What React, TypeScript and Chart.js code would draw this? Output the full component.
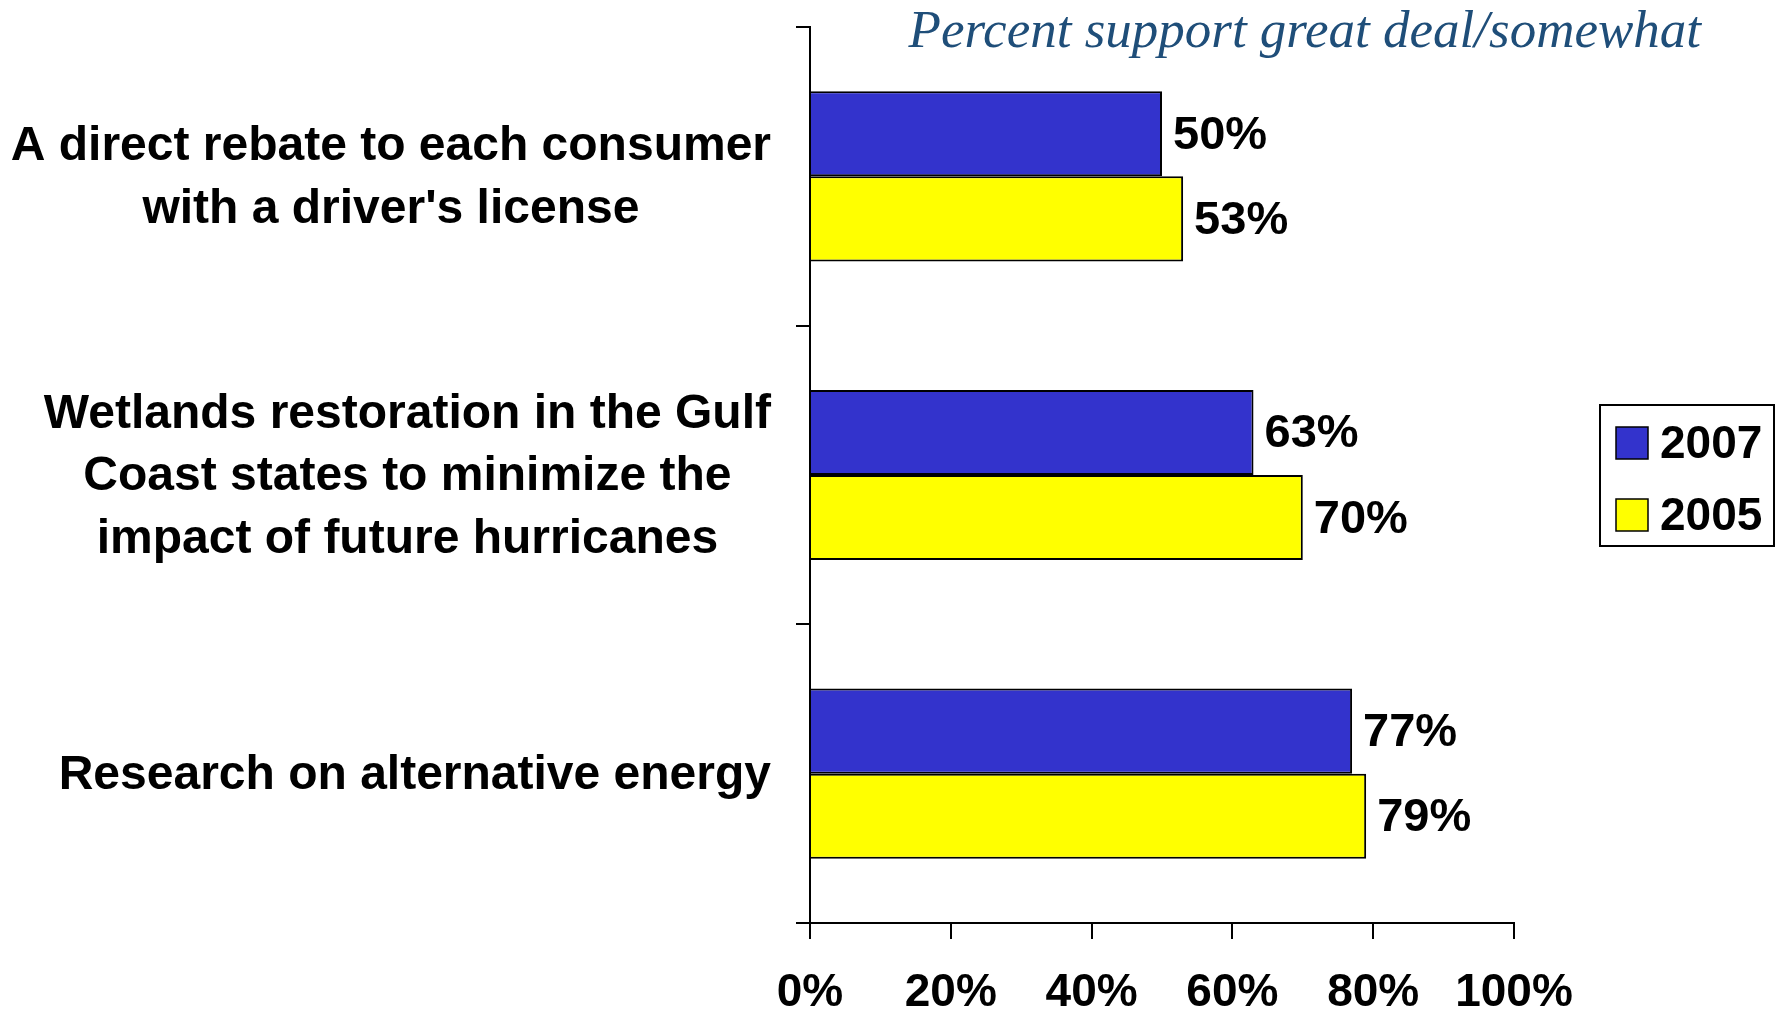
import React, { useEffect, useRef } from 'react';
import { Chart, registerables } from 'chart.js';

Chart.register(...registerables);

const categories: string[][] = [
  ['A direct rebate to each consumer', "with a driver's license"],
  ['Wetlands restoration in the Gulf', 'Coast states to minimize the', 'impact of future hurricanes'],
  ['Research on alternative energy'],
];
const seriesLabels = ['2007', '2005'];
const values2007 = [50, 63, 77];
const values2005 = [53, 70, 79];
const seriesColors = ['#3333CC', '#FFFF00'];
const xTickValues = [0, 20, 40, 60, 80, 100];
const titleText = 'Percent support great deal/somewhat';

const SANS = '"Liberation Sans", Arial, sans-serif';

const valueLabelPlugin = {
  id: 'valueLabels',
  afterDatasetsDraw(chart: any) {
    const ctx = chart.ctx;
    ctx.save();
    ctx.font = `bold 47px ${SANS}`;
    ctx.fillStyle = '#000';
    ctx.textAlign = 'left';
    ctx.textBaseline = 'middle';
    chart.data.datasets.forEach((ds: any, i: number) => {
      const meta = chart.getDatasetMeta(i);
      meta.data.forEach((bar: any, j: number) => {
        ctx.fillText(ds.data[j] + '%', bar.x + 11, bar.y + 2);
      });
    });
    ctx.restore();
  },
};

// Category labels: each block right-aligned against the axis, lines centred within the block
const categoryLabelPlugin = {
  id: 'categoryLabels',
  afterDraw(chart: any) {
    const ctx = chart.ctx;
    const yScale = chart.scales.y;
    const lineHeight = 62.4;
    const blockRight = yScale.right - 39;
    ctx.save();
    ctx.font = `bold 48px ${SANS}`;
    ctx.fillStyle = '#000';
    ctx.textAlign = 'center';
    ctx.textBaseline = 'middle';
    (chart.data.labels as string[][]).forEach((lines, i) => {
      const cy = yScale.getPixelForTick(i) + 2;
      const widths = lines.map((l) => ctx.measureText(l).width);
      const blockW = Math.max(...widths);
      const cx = blockRight - blockW / 2;
      const startY = cy - ((lines.length - 1) * lineHeight) / 2;
      lines.forEach((l, k) => ctx.fillText(l, cx, startY + k * lineHeight));
    });
    ctx.restore();
  },
};

const titlePlugin = {
  id: 'cornerTitle',
  afterDraw(chart: any) {
    const ctx = chart.ctx;
    const area = chart.chartArea;
    ctx.save();
    ctx.font = 'italic 53px "Liberation Serif", "Times New Roman", serif';
    ctx.fillStyle = '#1F4E79';
    ctx.textAlign = 'right';
    ctx.textBaseline = 'alphabetic';
    ctx.fillText(titleText, area.right + 187, 47);
    ctx.restore();
  },
};

const boxedLegendPlugin = {
  id: 'boxedLegend',
  afterDraw(chart: any) {
    const ctx = chart.ctx;
    const area = chart.chartArea;
    const left = area.right + 86;
    const top = 405;
    const w = 174;
    const h = 141;
    ctx.save();
    ctx.fillStyle = '#fff';
    ctx.fillRect(left, top, w, h);
    ctx.strokeStyle = '#000';
    ctx.lineWidth = 2;
    ctx.strokeRect(left, top, w, h);
    ctx.font = `bold 46px ${SANS}`;
    ctx.textAlign = 'left';
    ctx.textBaseline = 'middle';
    chart.data.datasets.forEach((ds: any, i: number) => {
      const cy = top + 38 + i * 72;
      ctx.fillStyle = ds.backgroundColor;
      ctx.fillRect(left + 16, cy - 16, 32, 32);
      ctx.lineWidth = 1.5;
      ctx.strokeStyle = '#000';
      ctx.strokeRect(left + 16, cy - 16, 32, 32);
      ctx.fillStyle = '#000';
      ctx.fillText(ds.label, left + 60, cy + 2);
    });
    ctx.restore();
  },
};

export default function App() {
  const canvasRef = useRef<HTMLCanvasElement | null>(null);

  useEffect(() => {
    document.body.style.margin = '0';
    const canvas = canvasRef.current;
    if (!canvas) return;
    const chart = new Chart(canvas, {
      type: 'bar',
      data: {
        labels: categories,
        datasets: [
          {
            label: seriesLabels[0],
            data: values2007,
            backgroundColor: seriesColors[0],
            borderColor: '#000',
            borderWidth: 2,
            categoryPercentage: 0.57,
            barPercentage: 1.0,
          },
          {
            label: seriesLabels[1],
            data: values2005,
            backgroundColor: seriesColors[1],
            borderColor: '#000',
            borderWidth: 2,
            categoryPercentage: 0.57,
            barPercentage: 1.0,
          },
        ],
      },
      options: {
        indexAxis: 'y',
        responsive: false,
        animation: false,
        devicePixelRatio: 1,
        layout: { padding: { left: 14, right: 268, top: 27, bottom: 0 } },
        plugins: {
          legend: { display: false },
          title: { display: false },
          tooltip: { enabled: false },
        },
        scales: {
          x: {
            type: 'linear',
            min: 0,
            max: 100,
            afterBuildTicks(scale: any) {
              scale.ticks = xTickValues.map((v) => ({ value: v }));
            },
            afterFit(scale: any) {
              scale.height = 93;
            },
            ticks: {
              autoSkip: false,
              maxRotation: 0,
              padding: 31,
              color: '#000',
              font: { family: SANS, size: 46, weight: 'bold', lineHeight: 1 },
              callback: (v: any) => v + '%',
            },
            grid: {
              drawOnChartArea: false,
              drawTicks: true,
              tickLength: 16,
              color: '#000',
              lineWidth: 2,
            },
            border: { display: true, color: '#000', width: 2 },
          },
          y: {
            type: 'category',
            offset: true,
            afterFit(scale: any) {
              scale.width = 796;
              scale.paddingTop = 0;
              scale.paddingBottom = 0;
            },
            ticks: {
              display: false,
              autoSkip: false,
            },
            grid: {
              offset: true,
              drawOnChartArea: false,
              drawTicks: true,
              tickLength: 14,
              color: '#000',
              lineWidth: 2,
            },
            border: { display: true, color: '#000', width: 2 },
          },
        },
      } as any,
      plugins: [valueLabelPlugin, categoryLabelPlugin, titlePlugin, boxedLegendPlugin],
    });
    return () => chart.destroy();
  }, []);

  return (
    <div style={{ position: 'absolute', left: 0, top: 0, width: 1782, height: 1016, background: '#fff' }}>
      <canvas ref={canvasRef} width={1782} height={1016} style={{ width: 1782, height: 1016, display: 'block' }} />
    </div>
  );
}
